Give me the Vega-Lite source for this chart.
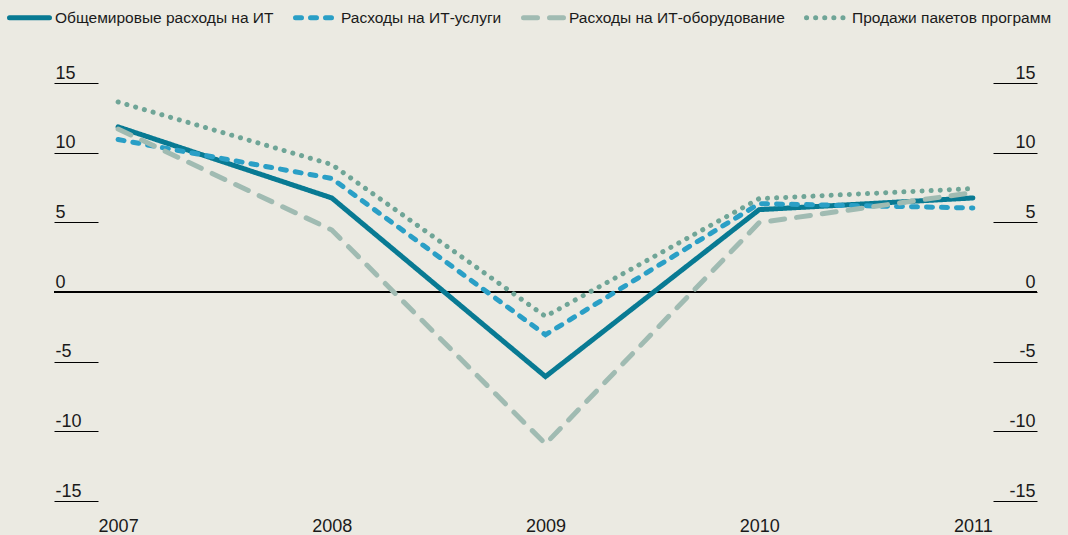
{
  "$schema": "https://vega.github.io/schema/vega-lite/v6.json",
  "autosize": {"type": "none"},
  "width": 983,
  "height": 418,
  "padding": {"left": 54, "top": 83, "right": 31, "bottom": 34},
  "background": "#ebeae2",
  "config": {
    "view": {"stroke": null},
    "font": "Liberation Sans",
    "axis": {"labelFont": "Liberation Sans", "labelFontSize": 18, "labelColor": "#1a1a1a", "grid": false, "domain": false, "title": null}
  },
  "data": {
    "values": [
      {"year": 2007, "series": "Общемировые расходы на ИТ", "value": 11.85},
      {"year": 2008, "series": "Общемировые расходы на ИТ", "value": 6.75},
      {"year": 2009, "series": "Общемировые расходы на ИТ", "value": -6.07},
      {"year": 2010, "series": "Общемировые расходы на ИТ", "value": 5.91},
      {"year": 2011, "series": "Общемировые расходы на ИТ", "value": 6.75},
      {"year": 2007, "series": "Расходы на ИТ-услуги", "value": 10.94},
      {"year": 2008, "series": "Расходы на ИТ-услуги", "value": 8.15},
      {"year": 2009, "series": "Расходы на ИТ-услуги", "value": -3.07},
      {"year": 2010, "series": "Расходы на ИТ-услуги", "value": 6.34},
      {"year": 2011, "series": "Расходы на ИТ-услуги", "value": 6.03},
      {"year": 2007, "series": "Расходы на ИТ-оборудование", "value": 11.7},
      {"year": 2008, "series": "Расходы на ИТ-оборудование", "value": 4.45},
      {"year": 2009, "series": "Расходы на ИТ-оборудование", "value": -10.9},
      {"year": 2010, "series": "Расходы на ИТ-оборудование", "value": 4.98},
      {"year": 2011, "series": "Расходы на ИТ-оборудование", "value": 7.13},
      {"year": 2007, "series": "Продажи пакетов программ", "value": 13.64},
      {"year": 2008, "series": "Продажи пакетов программ", "value": 9.15},
      {"year": 2009, "series": "Продажи пакетов программ", "value": -1.75},
      {"year": 2010, "series": "Продажи пакетов программ", "value": 6.7},
      {"year": 2011, "series": "Продажи пакетов программ", "value": 7.42}
    ]
  },
  "layer": [
    {
      "mark": {"type": "rule", "color": "#000000", "strokeWidth": 1},
      "encoding": {
        "y": {
          "datum": 0,
          "type": "quantitative",
          "scale": {"domain": [-15, 15], "nice": false, "zero": false},
          "axis": {
            "orient": "right",
            "values": [-15, -10, -5, 0, 5, 10, 15],
            "labelExpr": "datum.value < 0 ? '-' + abs(datum.value) : '' + datum.value",
            "tickSize": -44,
            "tickColor": "#000000",
            "tickWidth": 1,
            "labelAlign": "right",
            "labelBaseline": "alphabetic",
            "labelPadding": 42,
            "labelOffset": -5,
            "title": null
          }
        }
      }
    },
    {
      "mark": {"type": "line", "strokeWidth": 5, "strokeCap": "round", "strokeJoin": "miter"},
      "encoding": {
        "x": {
          "field": "year",
          "type": "quantitative",
          "scale": {"domain": [2006.7, 2011.3], "nice": false, "zero": false},
          "axis": {
            "values": [2007, 2008, 2009, 2010, 2011],
            "format": "d",
            "ticks": false,
            "tickSize": 0,
            "labelPadding": 30.5,
            "labelBaseline": "alphabetic",
            "title": null
          }
        },
        "y": {
          "field": "value",
          "type": "quantitative",
          "scale": {"domain": [-15, 15], "nice": false, "zero": false},
          "axis": {
            "orient": "left",
            "values": [-15, -10, -5, 0, 5, 10, 15],
            "labelExpr": "datum.value < 0 ? '-' + abs(datum.value) : '' + datum.value",
            "tickSize": -44,
            "tickColor": "#000000",
            "tickWidth": 1,
            "labelAlign": "left",
            "labelBaseline": "alphabetic",
            "labelPadding": 43,
            "labelOffset": -5,
            "title": null
          }
        },
        "color": {
          "field": "series",
          "type": "nominal",
          "scale": {
            "domain": ["Общемировые расходы на ИТ", "Расходы на ИТ-услуги", "Расходы на ИТ-оборудование", "Продажи пакетов программ"],
            "range": ["#087a93", "#2a9fc6", "#a0bbb2", "#6fa597"]
          },
          "legend": {
            "orient": "none",
            "legendX": -47,
            "legendY": -88,
            "direction": "horizontal",
            "title": null,
            "padding": 0,
            "symbolType": "stroke",
            "symbolSize": 1600,
            "symbolStrokeWidth": 5,
            "labelFont": "Liberation Sans",
            "labelFontSize": 15.5,
            "labelColor": "#1a1a1a",
            "labelOffset": 3,
            "columnPadding": 11,
            "labelLimit": 400,
            "encoding": {"symbols": {"strokeCap": {"value": "round"}}}
          }
        },
        "strokeDash": {
          "field": "series",
          "type": "nominal",
          "scale": {
            "domain": ["Общемировые расходы на ИТ", "Расходы на ИТ-услуги", "Расходы на ИТ-оборудование", "Продажи пакетов программ"],
            "range": [[1, 0], [6, 9], [14, 12], [0.1, 9]]
          }
        }
      }
    }
  ],
  "resolve": {"axis": {"y": "independent"}}
}
